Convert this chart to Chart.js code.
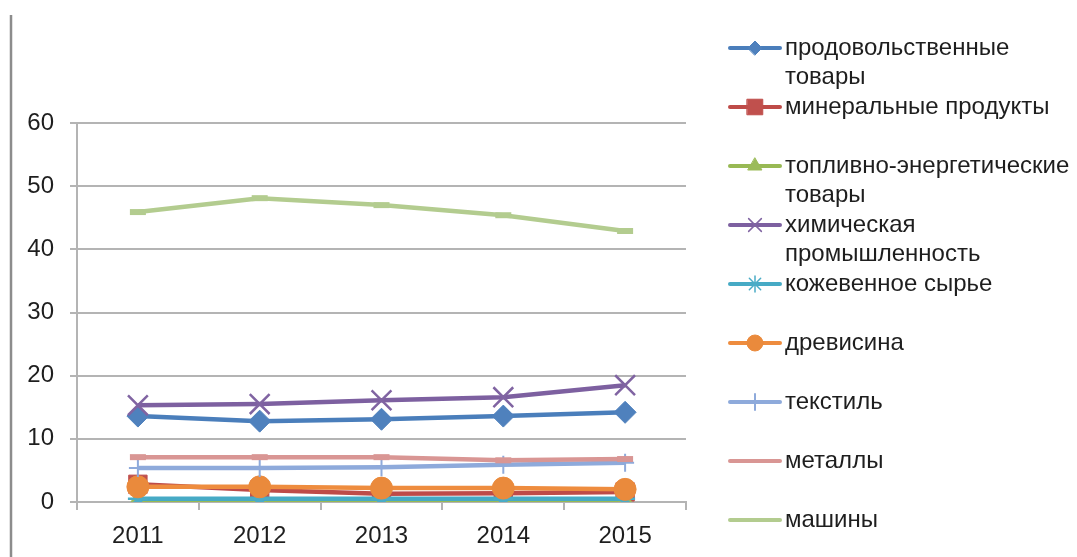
<!DOCTYPE html>
<html>
<head>
<meta charset="utf-8">
<title>chart</title>
<script src="https://cdn.jsdelivr.net/npm/chart.js@4/dist/chart.umd.min.js"></script>
<style>
html, body { margin: 0; padding: 0; background: #fff; }
#wrap { position: relative; width: 1077px; height: 557px; }
</style>
</head>
<body>
<div id="wrap"><canvas id="chart" width="1077" height="557"></canvas></div>
<script>
// data
var years = ["2011", "2012", "2013", "2014", "2015"];
var yTicks = [0, 10, 20, 30, 40, 50, 60];

var food      = [13.6, 12.8, 13.1, 13.6, 14.2];
var minerals  = [2.8, 1.9, 1.3, 1.4, 1.6];
var fuel      = [0.3, 0.2, 0.2, 0.2, 0.2];
var chemistry = [15.3, 15.5, 16.1, 16.6, 18.5];
var leather   = [0.5, 0.5, 0.5, 0.5, 0.5];
var wood      = [2.4, 2.4, 2.2, 2.2, 2.0];
var textile   = [5.4, 5.4, 5.5, 5.9, 6.2];
var metals    = [7.1, 7.1, 7.1, 6.6, 6.8];
var machines  = [45.9, 48.1, 47.0, 45.4, 42.9];

// legend text, split the way the picture wraps it
var seriesNames = [
    ["продовольственные", "товары"],
    ["минеральные продукты"],
    ["топливно-энергетические", "товары"],
    ["химическая", "промышленность"],
    ["кожевенное сырье"],
    ["древисина"],
    ["текстиль"],
    ["металлы"],
    ["машины"]
];

var fontFamily = "'Liberation Sans', Arial, sans-serif";
var textColor = "#1e1e1e";
var gridColor = "#b4b4b4";

function series(idx, values, line, marker, style, radius, pbw, legendRadius) {
    return {
        label: seriesNames[idx].join(" "),
        data: values,
        borderColor: line,
        backgroundColor: marker,
        borderWidth: 4.5,
        tension: 0,
        fill: false,
        pointStyle: style,
        pointRadius: radius,
        pointHoverRadius: radius,
        pointBackgroundColor: marker,
        pointBorderColor: marker,
        pointBorderWidth: pbw,
        legendRadius: legendRadius,
        order: 9 - idx
    };
}

var datasets = [
    series(0, food,      "#4a7ebb", "#4f81bd", "rectRot",  11, 1,   7),
    series(1, minerals,  "#be4b48", "#c0504d", "rect",     13, 1,  11),
    series(2, fuel,      "#98b954", "#9bbb59", "triangle", 10, 1,   8),
    series(3, chemistry, "#7d60a0", "#8064a2", "crossRot", 14, 2.5,  9),
    series(4, leather,   "#46aac5", "#4bacc6", "star",     10, 2.5,  8),
    series(5, wood,      "#ee8c3e", "#ea8a3c", "circle",   11, 1,   8),
    series(6, textile,   "#8eaadb", "#8eaadb", "cross",     9, 2,   8),
    series(7, metals,    "#d99694", "#d99694", "line",      8, 6,   0),
    series(8, machines,  "#b3cc8f", "#b3cc8f", "line",      8, 6,   0)
];

function drawMarker(ctx, ds, x, y) {
    ctx.fillStyle = ds.pointBackgroundColor;
    ctx.strokeStyle = ds.pointBorderColor;
    ctx.lineWidth = ds.pointStyle === "crossRot" || ds.pointStyle === "star" ? 1.5 : ds.pointBorderWidth;
    Chart.helpers.drawPoint(ctx, {
        pointStyle: ds.pointStyle,
        radius: ds.legendRadius,
        borderWidth: ctx.lineWidth
    }, x, y);
}

// legend at the right, one symbol per series, text wrapped on two lines
var legendPlugin = {
    id: "sideLegend",
    afterDraw: function (chart) {
        var ctx = chart.ctx;
        var top = 48, itemStep = 59, lineStep = 29.5;
        ctx.save();
        for (var i = 0; i < chart.data.datasets.length; i++) {
            var ds = chart.data.datasets[i];
            var y = top + i * itemStep;
            ctx.strokeStyle = ds.borderColor;
            ctx.lineWidth = 4;
            ctx.lineCap = "round";
            ctx.beginPath();
            ctx.moveTo(730, y);
            ctx.lineTo(780, y);
            ctx.stroke();
            if (ds.legendRadius > 0) {
                drawMarker(ctx, ds, 755, y);
            }
            ctx.fillStyle = textColor;
            ctx.font = "24px " + fontFamily;
            ctx.textBaseline = "middle";
            ctx.textAlign = "left";
            for (var k = 0; k < seriesNames[i].length; k++) {
                ctx.fillText(seriesNames[i][k], 785, y + k * lineStep);
            }
        }
        // thin frame line on the left edge
        ctx.strokeStyle = "#8c8c8c";
        ctx.lineWidth = 2.5;
        ctx.lineCap = "butt";
        ctx.beginPath();
        ctx.moveTo(11, 15);
        ctx.lineTo(11, 557);
        ctx.stroke();
        ctx.restore();
    }
};

var myChart = new Chart(document.getElementById("chart"), {
    type: "line",
    data: { labels: years, datasets: datasets },
    options: {
        responsive: false,
        animation: false,
        layout: { padding: { left: 0, top: 123, right: 391, bottom: 0 } },
        plugins: {
            legend: { display: false },
            tooltip: { enabled: false }
        },
        scales: {
            x: {
                offset: true,
                grid: {
                    offset: true,
                    drawOnChartArea: false,
                    drawTicks: true,
                    tickLength: 8,
                    color: gridColor,
                    lineWidth: 2
                },
                border: { color: gridColor, width: 2 },
                ticks: {
                    color: textColor,
                    font: { size: 24, family: fontFamily },
                    padding: 12
                },
                afterFit: function (scale) { scale.height = 55; }
            },
            y: {
                min: 0,
                max: 60,
                afterBuildTicks: function (scale) {
                    scale.ticks = yTicks.map(function (v) { return { value: v }; });
                },
                grid: {
                    color: gridColor,
                    lineWidth: 2,
                    tickLength: 7
                },
                border: { color: gridColor, width: 2 },
                ticks: {
                    color: textColor,
                    font: { size: 24, family: fontFamily },
                    padding: 16
                },
                afterFit: function (scale) { scale.width = 77; }
            }
        }
    },
    plugins: [legendPlugin]
});
</script>
</body>
</html>
